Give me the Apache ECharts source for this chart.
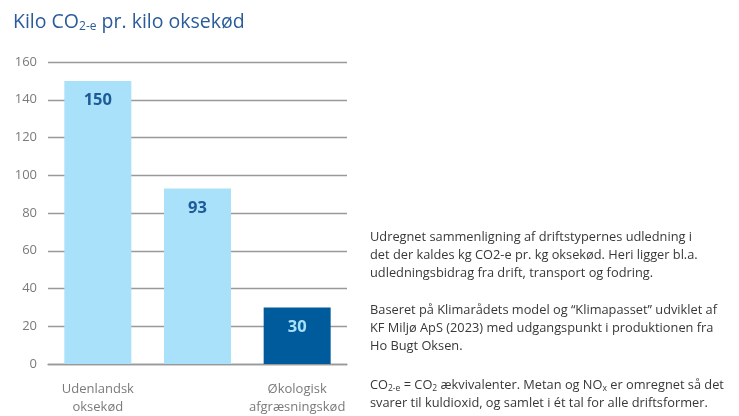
<!DOCTYPE html>
<html>
<head>
<meta charset="utf-8">
<script src="https://cdn.jsdelivr.net/npm/echarts@6/dist/echarts.min.js"></script>
<style>html,body{margin:0;padding:0;background:#fff}#c{width:739px;height:416px}</style>
</head>
<body>
<div id="c"></div>
<script>
const categories = ['Udenlandsk\noksekød', 'Dansk\noksekød', 'Økologisk\nafgræsningskød'];
const values = [150, 93, 30];
const yMin = 0, yMax = 160, yStep = 20;

const barColors = ['#a9e1fa', '#a9e1fa', '#005b9c'];
const labelColors = ['#1d5a98', '#1d5a98', '#a9e1fa'];
const FONT = '"Open Sans", "Noto Sans", sans-serif';

const chart = echarts.init(document.getElementById('c'), null, {renderer: 'canvas'});
const noteStyle = {fontSize: 12.8, fontFamily: FONT, fill: '#383838', lineHeight: 18};
const subRich = {
  s: {fontSize: 8.5, fontFamily: FONT, color: '#383838', padding: [7, 0, 0, 0], lineHeight: 18}
};
chart.setOption({
  animation: false,
  title: {
    text: 'Kilo CO{s|2-e} pr. kilo oksekød',
    left: 8, top: 6,
    textStyle: {
      fontSize: 19.5, fontFamily: FONT, fontWeight: 'normal', color: '#2a5b9a',
      rich: {s: {fontSize: 12, fontFamily: FONT, color: '#2a5b9a', padding: [10, 0, 0, 0]}}
    }
  },
  grid: {left: 48, right: 392, top: 62, bottom: 49},
  xAxis: {
    type: 'category',
    data: categories,
    axisLine: {lineStyle: {color: '#999', width: 1.3}},
    axisTick: {show: false},
    axisLabel: {color: '#7a7a7a', fontSize: 13, fontFamily: FONT, margin: 16, lineHeight: 18, align: 'center'}
  },
  yAxis: {
    type: 'value', min: yMin, max: yMax, interval: yStep,
    axisLine: {show: false}, axisTick: {show: false},
    splitLine: {lineStyle: {color: '#999', width: 1.3}},
    axisLabel: {color: '#7a7a7a', fontSize: 13, fontFamily: FONT, margin: 11}
  },
  series: [{
    type: 'bar',
    data: values.map((v, i) => ({
      value: v,
      itemStyle: {color: barColors[i]},
      label: {color: labelColors[i]}
    })),
    barWidth: 67,
    label: {show: true, position: 'insideTop', distance: 11, fontSize: 16.5, fontWeight: 'bold', fontFamily: FONT}
  }],
  graphic: [
    {type: 'text', left: 370, top: 228, style: Object.assign({}, noteStyle, {
      text: 'Udregnet sammenligning af driftstypernes udledning i\ndet der kaldes kg CO2-e pr. kg oksekød. Heri ligger bl.a.\nudledningsbidrag fra drift, transport og fodring.'})},
    {type: 'text', left: 370, top: 301, style: Object.assign({}, noteStyle, {
      text: 'Baseret på Klimarådets model og “Klimapasset” udviklet af\nKF Miljø ApS (2023) med udgangspunkt i produktionen fra\nHo Bugt Oksen.'})},
    {type: 'text', left: 370, top: 376, style: Object.assign({}, noteStyle, {
      rich: subRich,
      text: 'CO{s|2-e} = CO{s|2} ækvivalenter. Metan og NO{s|x} er omregnet så det\nsvarer til kuldioxid, og samlet i ét tal for alle driftsformer.'})}
  ]
});
</script>
</body>
</html>
